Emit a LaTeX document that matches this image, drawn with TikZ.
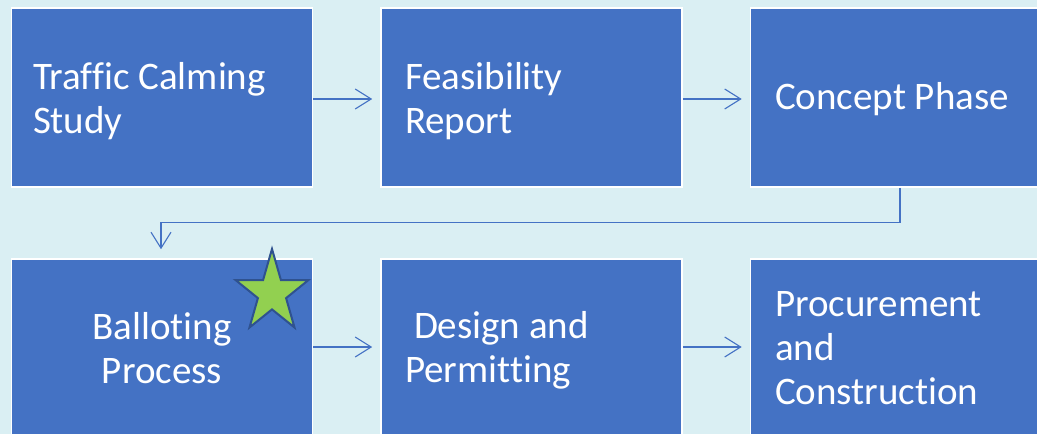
\documentclass[tikz,border=0pt]{standalone}
\usepackage{fontspec}
\setmainfont{Carlito}[Ligatures=NoCommon]
\usetikzlibrary{arrows.meta}
\definecolor{bg}{RGB}{218,239,243}
\definecolor{boxblue}{RGB}{68,114,196}
\definecolor{stargreen}{RGB}{146,208,80}
\definecolor{staredge}{RGB}{47,82,143}
\tikzset{
  stepbox/.style={rectangle, fill=boxblue, draw=white, line width=1.6pt, inner sep=0pt, minimum width=301pt, minimum height=179pt},
  txt/.style={text=white, inner sep=0pt, outer sep=0pt, font=\fontsize{39}{44}\selectfont},
  arr/.style={draw=boxblue, line width=1.1pt, -{Straight Barb[length=16pt,width=20pt,line width=1.1pt]}},
}
\begin{document}
\begin{tikzpicture}[x=1pt,y=-1pt]
\useasboundingbox (0,0) rectangle (1037,434);
\clip (0,0) rectangle (1037,434);
\fill[bg] (0,0) rectangle (1037,434);
% boxes
\node[stepbox] (b1) at (162,97.5) {};
\node[stepbox] (b2) at (531.5,97.5) {};
\node[stepbox] (b3) at (901,97.5) {};
\node[stepbox] (b4) at (162,348.5) {};
\node[stepbox] (b5) at (531.5,348.5) {};
\node[stepbox] (b6) at (901,348.5) {};
% texts (base anchor = baseline of the last line)
\node[txt, anchor=base west, align=left] (t1) at (33,133) {Traffic Calming\\Study};
\node[txt, anchor=base west, align=left] (t2) at (405,133) {Feasibility\\Report};
\node[txt, anchor=base west, align=left] (t3) at (775,109) {Concept Phase};
\node[txt, anchor=base, align=center] (t4) at (162,383) {Balloting\\Process};
\node[txt, anchor=base west, align=left] (t5) at (405,382) {\hspace*{9pt}Design and\\Permitting};
\node[txt, anchor=base west, align=left] (t6) at (775,404) {Procurement\\and\\Construction};
% connectors
\draw[arr, shorten >=8pt] (b1.east |- 0,99) -- (b2.west |- 0,99);
\draw[arr, shorten >=8pt] (b2.east |- 0,99) -- (b3.west |- 0,99);
\draw[arr, shorten >=9pt] (b3.south -| 900,0) -- ++(0,35) -| (b4.north -| 161,0);
\draw[arr, shorten >=8pt] (b4.east |- 0,347) -- (b5.west |- 0,347);
\draw[arr, shorten >=8pt] (b5.east |- 0,347) -- (b6.west |- 0,347);
% star
\draw[fill=stargreen, draw=staredge, line width=2pt, line join=miter]
  (272,249) -- (280.9,280) -- (308.5,280) -- (286.1,298.1) -- (294.5,327.5)
  -- (272,309.4) -- (249.5,327.5) -- (257.9,298.1) -- (235.5,280) -- (263.1,280) -- cycle;
\end{tikzpicture}
\end{document}
